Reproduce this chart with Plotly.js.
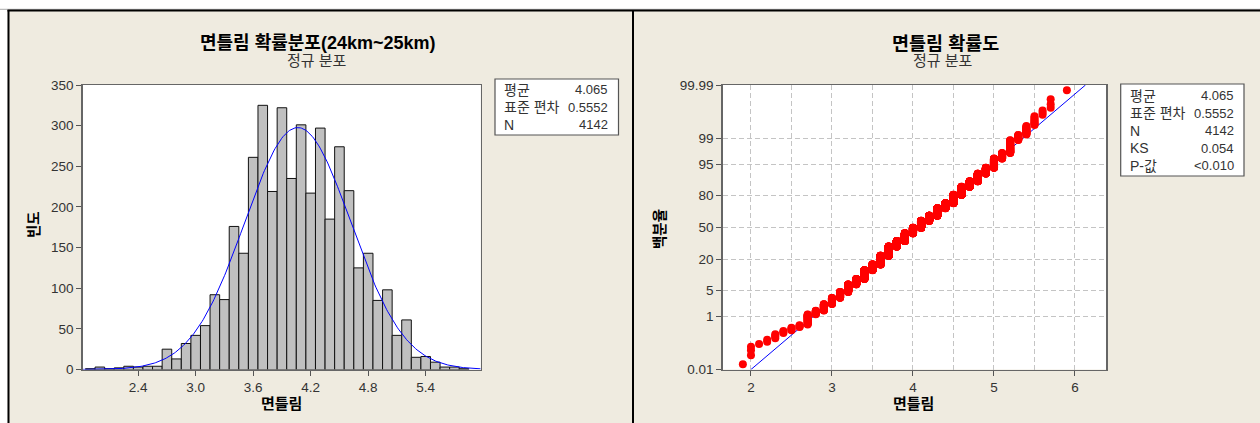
<!DOCTYPE html>
<html><head><meta charset="utf-8">
<script src="https://cdn.plot.ly/plotly-3.0.1.min.js"></script>
<style>html,body{margin:0;padding:0;background:#fff;}</style>
</head><body>
<div id="chart" style="width:1260px;height:423px;"></div>
<script>
// ---------- data ----------
const binCenters = [1.9,2.0,2.1,2.2,2.3,2.4,2.5,2.6,2.7,2.8,2.9,3.0,3.1,3.2,3.3,3.4,3.5,3.6,3.7,3.8,3.9,4.0,4.1,4.2,4.3,4.4,4.5,4.6,4.7,4.8,4.9,5.0,5.1,5.2,5.3,5.4,5.5,5.6,5.7,5.8];
const binCounts  = [1,3,1,2,4,3,4,4,25,13,32,42,54,92,86,176,143,261,325,219,322,235,301,217,297,185,274,220,125,143,85,98,42,61,15,16,9,3,3,1];
const probValues = [1.9,2.0,2.1,2.2,2.3,2.4,2.5,2.6,2.7,2.8,2.9,3.0,3.1,3.2,3.3,3.4,3.5,3.6,3.7,3.8,3.9,4.0,4.1,4.2,4.3,4.4,4.5,4.6,4.7,4.8,4.9,5.0,5.1,5.2,5.3,5.4,5.5,5.6,5.7,5.8,5.9];
const probCounts = [1,3,1,2,4,3,4,4,25,13,32,42,54,92,86,176,143,261,325,219,322,235,301,217,297,185,274,220,125,143,85,98,42,61,15,16,9,3,3,0,1];
const meanVal = 4.065, sdVal = 0.5552, nVal = 4142, binWidth = 0.1;
const statLabels1 = ['평균','표준 편차','N'];
const statValues1 = ['4.065','0.5552','4142'];
const statLabels2 = ['평균','표준 편차','N','KS','P-값'];
const statValues2 = ['4.065','0.5552','4142','0.054','<0.010'];
const histXTicks = [2.4,3.0,3.6,4.2,4.8,5.4];
const histYTicks = [0,50,100,150,200,250,300,350];
const probYTicks = [0.01,1,5,20,50,80,95,99,99.99];
const probYLabels = ['0.01','1','5','20','50','80','95','99','99.99'];
const probXTicks = [2,3,4,5,6];

// ---------- helpers ----------
function normInv(p){
  const a=[-3.969683028665376e+01,2.209460984245205e+02,-2.759285104469687e+02,1.383577518672690e+02,-3.066479806614716e+01,2.506628277459239e+00];
  const b=[-5.447609879822406e+01,1.615858368580409e+02,-1.556989798598866e+02,6.680131188771972e+01,-1.328068155288572e+01];
  const c=[-7.784894002430293e-03,-3.223964580411365e-01,-2.400758277161838e+00,-2.549732539343734e+00,4.374664141464968e+00,2.938163982698783e+00];
  const d=[7.784695709041462e-03,3.224671290700398e-01,2.445134137142996e+00,3.754408661907416e+00];
  const pl=0.02425, ph=1-pl; let q,r;
  if(p<pl){q=Math.sqrt(-2*Math.log(p));return (((((c[0]*q+c[1])*q+c[2])*q+c[3])*q+c[4])*q+c[5])/((((d[0]*q+d[1])*q+d[2])*q+d[3])*q+1);}
  if(p<=ph){q=p-0.5;r=q*q;return (((((a[0]*r+a[1])*r+a[2])*r+a[3])*r+a[4])*r+a[5])*q/(((((b[0]*r+b[1])*r+b[2])*r+b[3])*r+b[4])*r+1);}
  q=Math.sqrt(-2*Math.log(1-p));return -(((((c[0]*q+c[1])*q+c[2])*q+c[3])*q+c[4])*q+c[5])/((((d[0]*q+d[1])*q+d[2])*q+d[3])*q+1);
}
const W=1260, H=423;
const px = x => x/W, py = y => 1 - y/H;
const FONT = '"Liberation Sans", Arial, "Noto Sans CJK KR", sans-serif';

// histogram x range
const hx0 = 1.821, hx1 = 5.974;
// fitted normal curve (from mean / sd)
const curveX = [], curveY = [];
for(let i=0;i<=300;i++){
  const x = hx0 + (hx1-hx0)*i/300;
  const z = (x-meanVal)/sdVal;
  curveX.push(x);
  curveY.push(nVal*binWidth*Math.exp(-0.5*z*z)/(sdVal*Math.sqrt(2*Math.PI)));
}

// probability plot points (median ranks)
const nProb = probCounts.reduce((s,v)=>s+v,0);
const ppX = [], ppZ = [];
let cum = 0;
probValues.forEach((v,k)=>{
  for(let j=0;j<probCounts[k];j++){
    cum++;
    ppX.push(v);
    ppZ.push(normInv((cum-0.3)/(nProb+0.4)));
  }
});
const zLo = normInv(0.0001), zHi = normInv(0.9999);
const fitX = [meanVal+sdVal*zLo, meanVal+sdVal*zHi];
const fitZ = [zLo, zHi];

// ---------- traces ----------
const traces = [
  {type:'bar', x:binCenters, y:binCounts, width:binWidth, xaxis:'x', yaxis:'y',
   marker:{color:'#c0c0c0', line:{color:'#111', width:1}}, hoverinfo:'skip'},
  {type:'scatter', mode:'lines', x:curveX, y:curveY, xaxis:'x', yaxis:'y',
   line:{color:'#0000ff', width:1}, hoverinfo:'skip'},
  {type:'scatter', mode:'lines', x:fitX, y:fitZ, xaxis:'x2', yaxis:'y2',
   line:{color:'#0000ff', width:1}, hoverinfo:'skip'},
  {type:'scatter', mode:'markers', x:ppX, y:ppZ, xaxis:'x2', yaxis:'y2',
   marker:{color:'#ff0000', size:8, line:{width:0}}, hoverinfo:'skip'}
];

const axBase = {ticks:'outside', ticklen:5, tickwidth:1, tickcolor:'#555', showline:true, linecolor:'#666', linewidth:1.5,
  mirror:true, zeroline:false, tickfont:{family:FONT, size:13.5, color:'#333'}};
const gridC = '#c4c4c4', gridD = '5px,3px';
const yDom = [py(369.5), py(85)];

const annotations = [];
function ann(text,x,y,opt){ annotations.push(Object.assign({text:text, x:px(x), y:py(y), xref:'paper', yref:'paper', showarrow:false,
  xanchor:'center', yanchor:'middle', font:{family:FONT, size:13, color:'#000'}}, opt||{})); }
ann('<b>면틀림 확률분포(24km~25km)</b>', 318, 43, {font:{family:FONT,size:18,color:'#000'}});
ann('정규 분포', 317, 61, {font:{family:FONT,size:15,color:'#333'}});
ann('<b>면틀림 확률도</b>', 945, 43, {font:{family:FONT,size:18.5,color:'#000'}});
ann('정규 분포', 943, 61, {font:{family:FONT,size:15,color:'#333'}});
ann('<b>면틀림</b>', 281, 403, {font:{family:FONT,size:15,color:'#000'}});
ann('<b>면틀림</b>', 913, 403, {font:{family:FONT,size:15,color:'#000'}});
ann('<b>빈도</b>', 34, 225, {textangle:-90, font:{family:FONT,size:14.5,color:'#000'}});
ann('<b>백분율</b>', 660, 229, {textangle:-90, font:{family:FONT,size:14.5,color:'#000'}});
statLabels1.forEach((t,i)=>{
  const y = 90 + i*17.5;
  ann(t, 502, y, {xanchor:'left', font:{family:FONT,size:14,color:'#333'}});
  ann(statValues1[i], 610, y, {xanchor:'right', font:{family:FONT,size:13,color:'#333'}});
});
statLabels2.forEach((t,i)=>{
  const y = 95.5 + i*17.5;
  ann(t, 1128, y, {xanchor:'left', font:{family:FONT,size:14,color:'#333'}});
  ann(statValues2[i], 1236, y, {xanchor:'right', font:{family:FONT,size:13,color:'#333'}});
});

function rectPx(x0,y0,x1,y1,opt){ return Object.assign({type:'rect', xref:'paper', yref:'paper', x0:px(x0), x1:px(x1), y0:py(y1), y1:py(y0)}, opt); }
function linePx(x0,y0,x1,y1,opt){ return Object.assign({type:'line', xref:'paper', yref:'paper', x0:px(x0), x1:px(x1), y0:py(y0), y1:py(y1)}, opt); }
const shapes = [
  rectPx(0,0,1260,9.5,{fillcolor:'#ffffff', line:{width:0}}),
  rectPx(0,0,7.5,423,{fillcolor:'#ffffff', line:{width:0}}),
  linePx(0,9.3,1260,9.3,{line:{color:'#aaa', width:1}}),
  linePx(7.5,10.5,1260,10.5,{line:{color:'#000', width:2}}),
  linePx(8.5,10,8.5,423,{line:{color:'#000', width:2}}),
  linePx(633,10,633,423,{line:{color:'#000', width:2}}),
  rectPx(495,79,618.5,135,{fillcolor:'#ffffff', line:{color:'#555', width:1.2}}),
  rectPx(1120.7,84,1244,176,{fillcolor:'#ffffff', line:{color:'#555', width:1.2}})
];

const layout = {
  width:W, height:H, margin:{l:0,r:0,t:0,b:0},
  paper_bgcolor:'#efebe0', plot_bgcolor:'#ffffff', showlegend:false,
  font:{family:FONT, size:13, color:'#333'},
  bargap:0,
  xaxis:Object.assign({}, axBase, {domain:[px(82.7),px(480.7)], range:[hx0,hx1], tickvals:histXTicks,
    ticktext:histXTicks.map(v=>v.toFixed(1)), showgrid:false, anchor:'y'}),
  yaxis:Object.assign({}, axBase, {domain:yDom, range:[0,350], tickvals:histYTicks, showgrid:false, anchor:'x'}),
  xaxis2:Object.assign({}, axBase, {domain:[px(722.7),px(1106)], range:[1.651,6.383], tickvals:probXTicks,
    showgrid:true, gridcolor:gridC, gridwidth:1, griddash:gridD, anchor:'y2',
    minor:{dtick:0.5, tick0:0, showgrid:true, gridcolor:gridC, gridwidth:1, griddash:gridD, ticks:''}}),
  yaxis2:Object.assign({}, axBase, {domain:yDom, range:[zLo,zHi], tickvals:probYTicks.map(p=>normInv(p/100)),
    ticktext:probYLabels, showgrid:true, gridcolor:gridC, gridwidth:1, griddash:gridD, anchor:'x2'}),
  annotations:annotations, shapes:shapes
};
Plotly.newPlot('chart', traces, layout, {staticPlot:true, displayModeBar:false});
</script>
</body></html>
